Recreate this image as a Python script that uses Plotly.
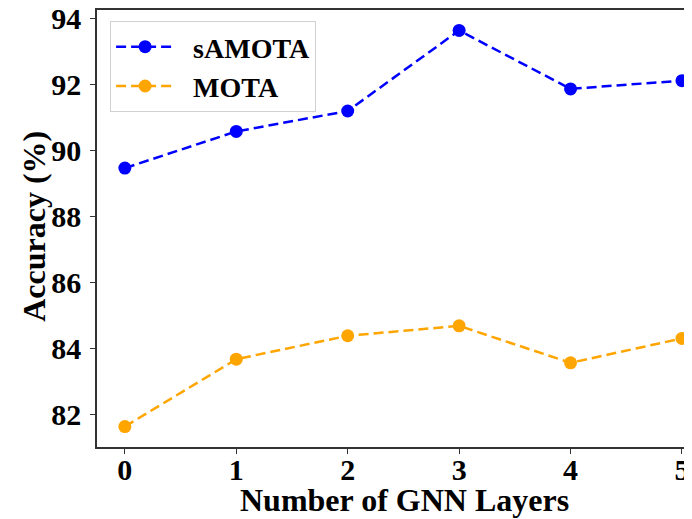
import plotly.graph_objects as go

layers = [0, 1, 2, 3, 4, 5]
samota = [89.48, 90.59, 91.21, 93.65, 91.88, 92.13]
mota = [81.65, 83.69, 84.40, 84.70, 83.58, 84.32]
y_ticks = [82, 84, 86, 88, 90, 92, 94]

FONT = "Liberation Serif"
PAD = "\u00a0\u00a0"

fig = go.Figure()
fig.add_trace(go.Scatter(x=layers, y=samota, name=PAD + "sAMOTA", mode="lines+markers",
                         line=dict(color="#0000FF", width=2.5, dash="10px,5px"),
                         marker=dict(color="#0000FF", size=13)))
fig.add_trace(go.Scatter(x=layers, y=mota, name=PAD + "MOTA", mode="lines+markers",
                         line=dict(color="#FFA500", width=2.5, dash="10px,5px"),
                         marker=dict(color="#FFA500", size=13)))

fig.update_layout(
    width=684, height=511,
    margin=dict(l=89, r=0, t=2, b=72),
    paper_bgcolor="white", plot_bgcolor="white",
    font=dict(family=FONT, size=30, color="black", weight="bold"),
    legend=dict(x=0.022, y=0.975, xanchor="left", yanchor="top",
                bordercolor="#d0d0d0", borderwidth=1, bgcolor="white",
                font=dict(family=FONT, size=28, color="black", weight="bold"),
                itemwidth=58),
    xaxis=dict(range=[-0.25, 5.09], tickvals=layers, showgrid=False, zeroline=False,
               showline=True, linecolor="#333333", linewidth=1.5, mirror=True,
               ticks="outside", ticklen=5, tickcolor="#333333", tickwidth=1.2,
               automargin=False, tickfont=dict(size=30), ticklabelstandoff=-10,
               ticklabeloverflow="allow"),
    yaxis=dict(range=[81.03, 94.27], tickvals=y_ticks, showgrid=False, zeroline=False,
               showline=True, linecolor="#333333", linewidth=1.5, mirror=False,
               ticks="outside", ticklen=5, tickcolor="#333333", tickwidth=1.2,
               automargin=False, tickfont=dict(size=30), ticklabelstandoff=3,
               ticklabeloverflow="allow"),
    annotations=[
        dict(text="Number of GNN Layers", xref="paper", yref="paper",
             x=0.516, y=-0.121, xanchor="center", yanchor="middle", showarrow=False,
             font=dict(family=FONT, size=32, color="black", weight="bold")),
        dict(text="Accuracy (%)", xref="paper", yref="paper", textangle=-90,
             x=-0.106, y=0.506, xanchor="center", yanchor="middle", showarrow=False,
             font=dict(family=FONT, size=32, color="black", weight="bold")),
    ],
)

fig.write_html("out.html")
